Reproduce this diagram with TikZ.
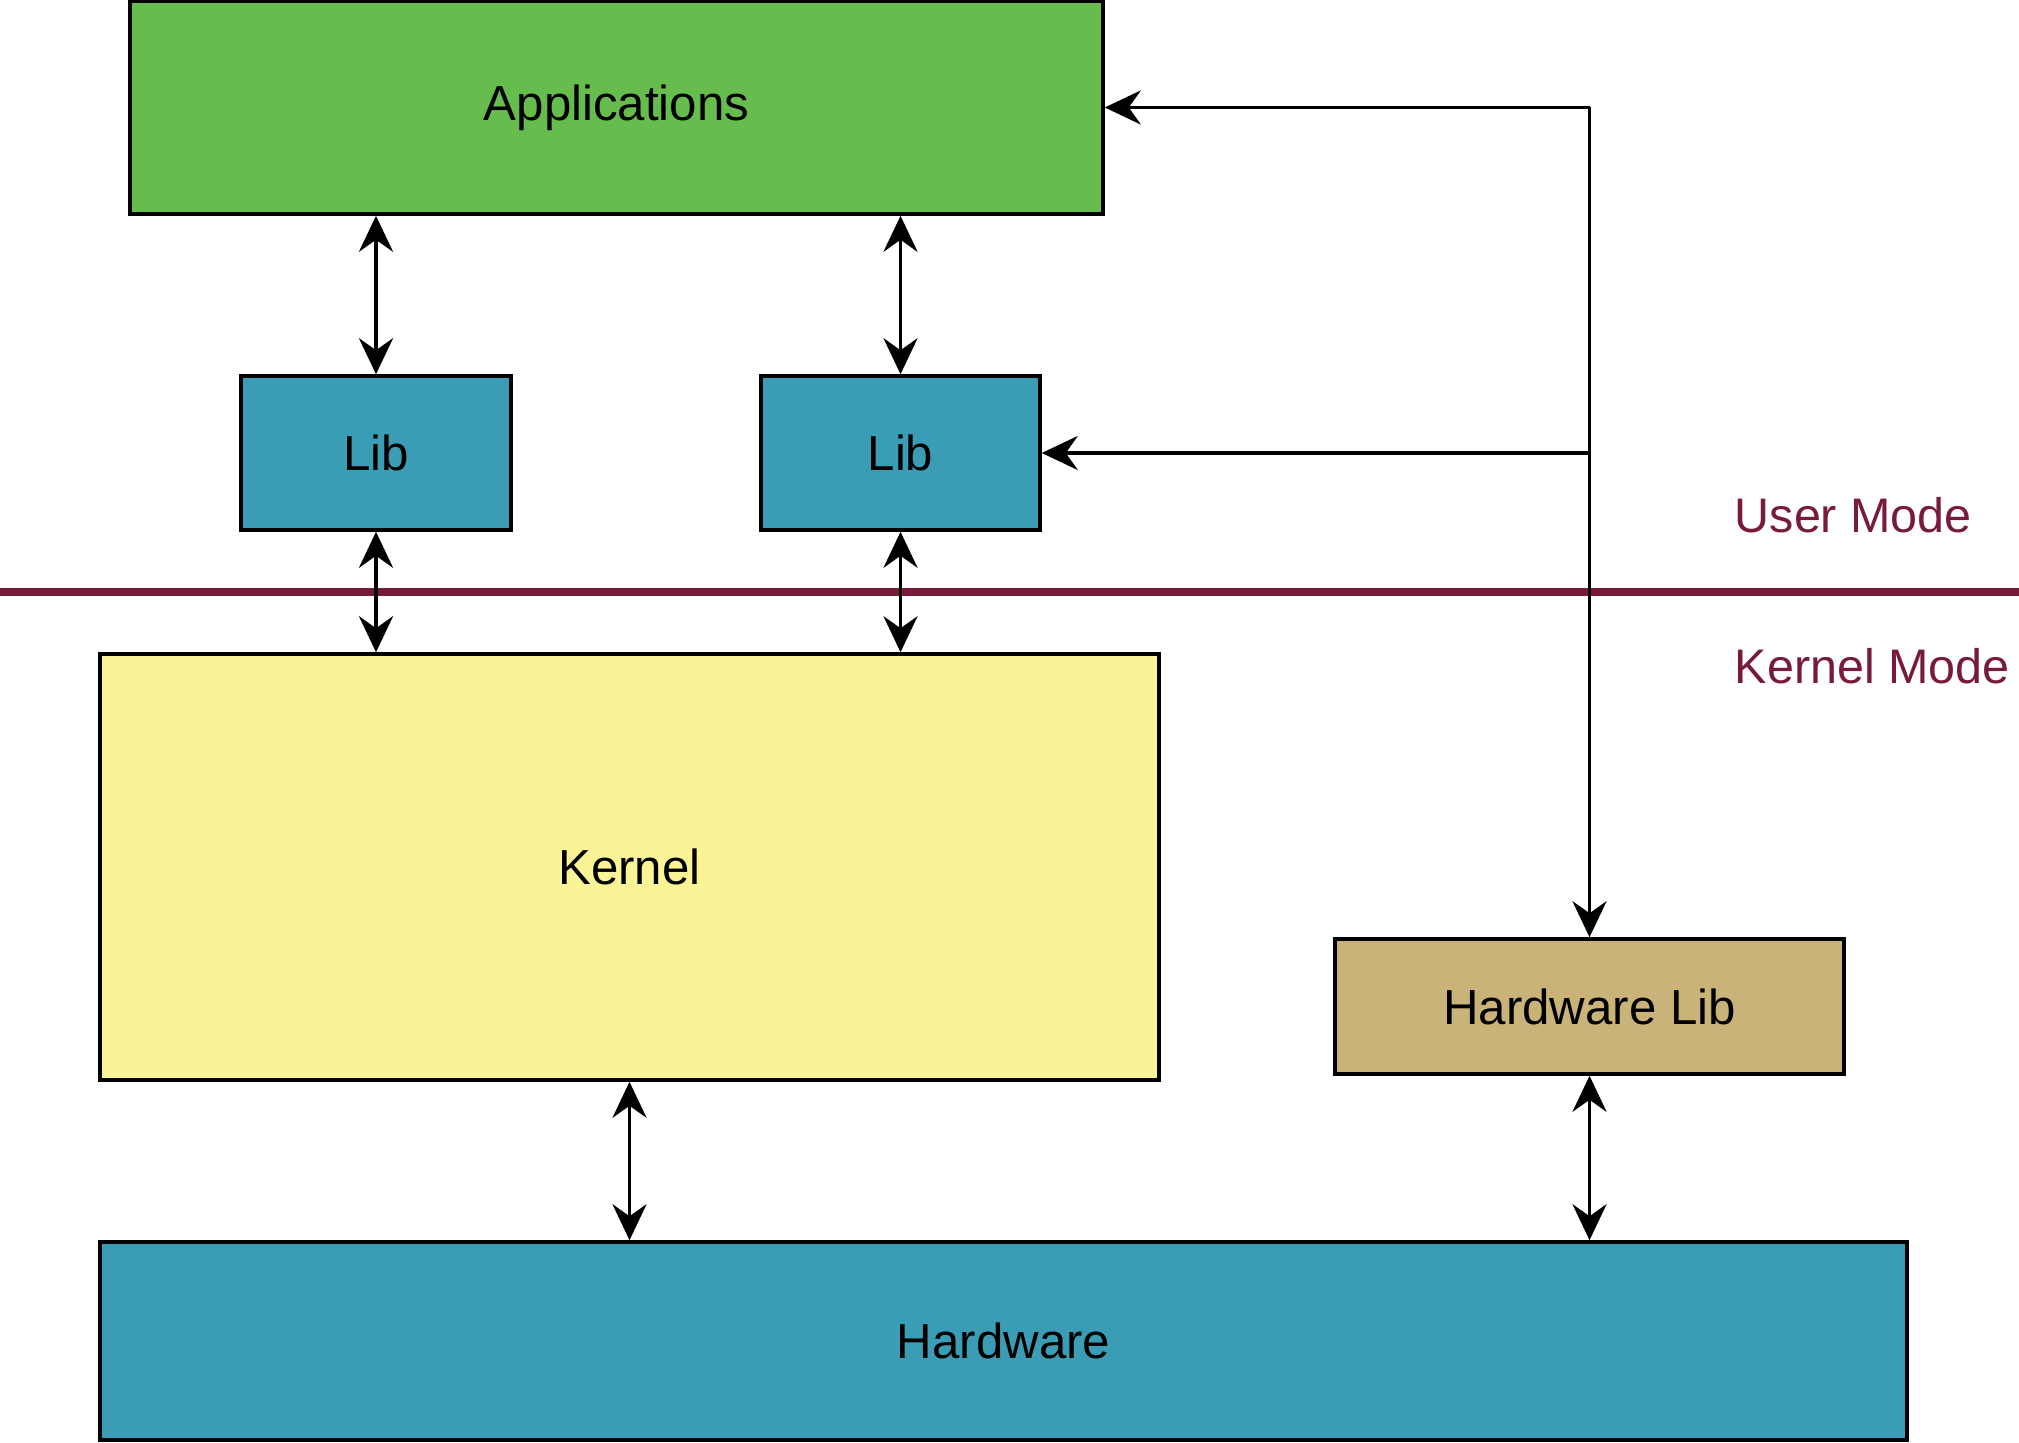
\documentclass[tikz,border=0pt]{standalone}
\usepackage{fontspec}
\setmainfont{Liberation Sans}
\usetikzlibrary{positioning, arrows.meta}
\definecolor{appgreen}{HTML}{66BD4E}
\definecolor{libteal}{HTML}{3A9DB5}
\definecolor{kernyellow}{HTML}{FAF497}
\definecolor{hwtan}{HTML}{C9B378}
\definecolor{modered}{HTML}{771A3E}

\begin{document}
\begin{tikzpicture}[
    % Các khối cơ bản
    block/.style={
        rectangle, draw=black, line width=1pt,
        inner sep=0pt, font=\fontsize{14}{17}\selectfont
    },
    modelabel/.style={
        anchor=west, inner sep=0pt, text=modered,
        font=\fontsize{13.8}{17}\selectfont
    },
    link/.style={line width=1.1pt, black},
    >={Stealth[length=3.6mm, width=3.4mm, inset=1.2mm]}
]
    \useasboundingbox (0,0) rectangle (20.19,14.42);

    % 1. APPLICATIONS VÀ CÁC LIB
    \node[block, fill=appgreen, minimum width=9.73cm, minimum height=2.13cm] (apps) at (6.165,13.345) {Applications};
    \node[block, fill=libteal, minimum width=2.70cm, minimum height=1.54cm] (libA) at (3.76,9.89) {Lib};
    \node[block, fill=libteal, minimum width=2.79cm, minimum height=1.54cm] (libB) at (9.005,9.89) {Lib};

    % 2. KERNEL, HARDWARE LIB, HARDWARE
    \node[block, fill=kernyellow, minimum width=10.59cm, minimum height=4.26cm] (kernel) at (6.295,5.75) {Kernel};
    \node[block, fill=hwtan, minimum width=5.09cm, minimum height=1.35cm] (hwlib) at (15.895,4.355) {Hardware Lib};
    \node[block, fill=libteal, minimum width=18.07cm, minimum height=1.98cm] (hw) at (10.035,1.01) {Hardware};

    % 3. RANH GIỚI USER / KERNEL
    \coordinate (sepL) at (0,8.50);
    \coordinate (sepR) at (20.19,8.50);
    \draw[modered, line width=2.3pt] (sepL) -- (sepR);
    \node[modelabel] (user) at (17.34,9.27) {User Mode};
    \node[modelabel] (kmode) at (17.34,7.76) {Kernel Mode};

    % 4. MŨI TÊN HAI CHIỀU
    \draw[link, <->] (apps.south -| libA) -- (libA.north);
    \draw[link, <->] (apps.south -| libB) -- (libB.north);
    \draw[link, <->] (libA.south) -- (kernel.north -| libA);
    \draw[link, <->] (libB.south) -- (kernel.north -| libB);
    \draw[link, <->] (kernel.south) -- (hw.north -| kernel);
    \draw[link, <->] (hwlib.south) -- (hw.north -| hwlib);

    % 5. ĐƯỜNG HARDWARE LIB (nhánh lên Applications và Lib)
    \coordinate (bus) at (apps.east -| hwlib);
    \draw[link, ->] (bus) -- (hwlib.north);
    \draw[link, ->] (bus) -- (apps.east);
    \draw[link, ->] (libB.east -| hwlib) -- (libB.east);
\end{tikzpicture}
\end{document}
